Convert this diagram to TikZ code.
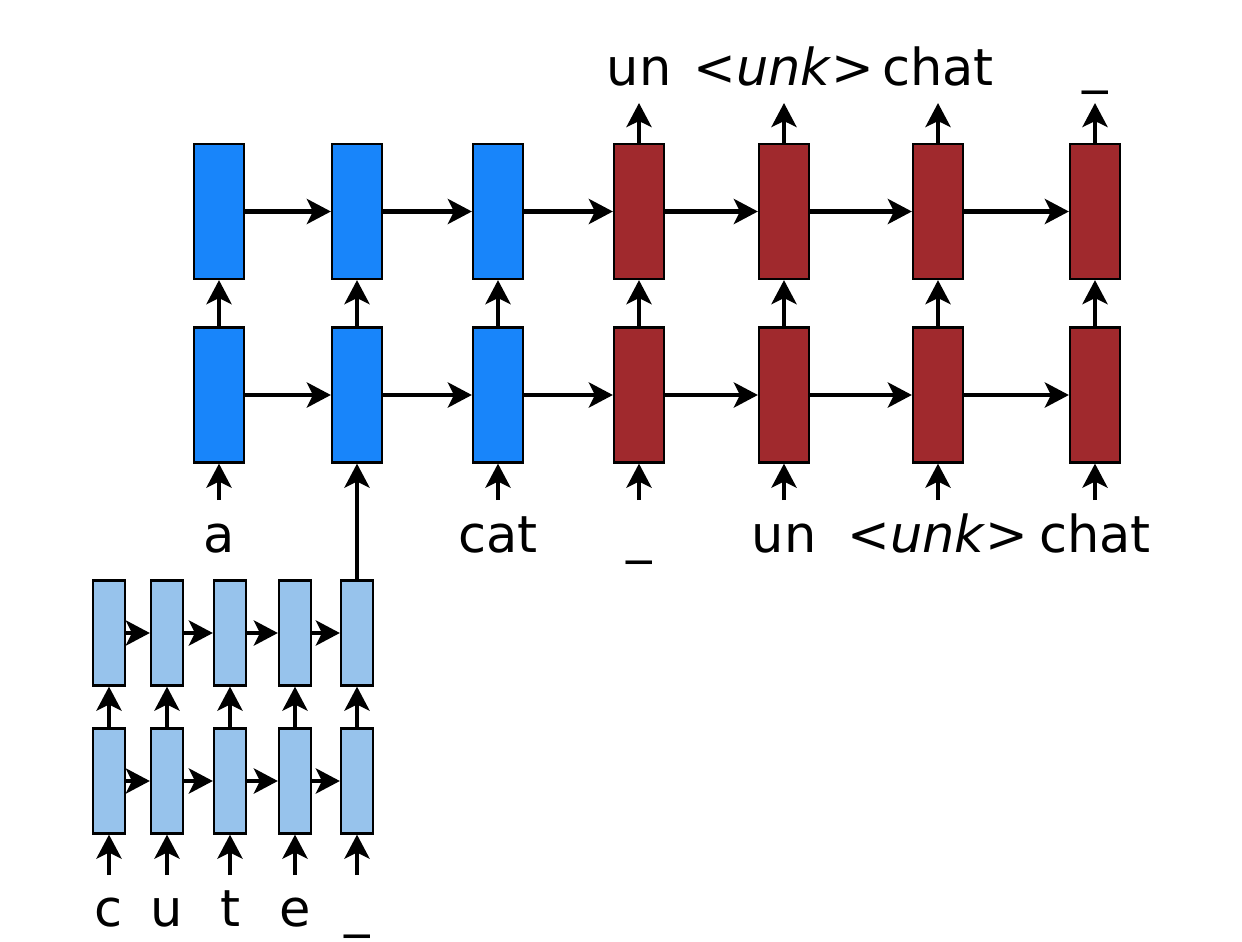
\documentclass[tikz,border=0pt]{standalone}
\usepackage{fontspec}
\setmainfont{DejaVu Sans}
\usetikzlibrary{arrows.meta}
\definecolor{encblue}{RGB}{24,133,250}
\definecolor{decred}{RGB}{160,41,45}
\definecolor{charblue}{RGB}{151,195,236}
\begin{document}
\begin{tikzpicture}[x=1pt,y=-1pt,
 bigbox/.style={draw=black,line width=2.2pt,minimum width=50pt,minimum height=135pt,inner sep=0pt},
 smallbox/.style={draw=black,line width=2.2pt,minimum width=32pt,minimum height=105pt,inner sep=0pt,fill=charblue},
 arr/.style={line width=4.8pt,-{Stealth[length=24pt,width=25pt,inset=6pt]}},
 lbl/.style={anchor=base,font=\fontsize{51}{60}\selectfont,inner sep=0pt}]
\useasboundingbox (0,0) rectangle (1242,942);
% big boxes
\foreach \i/\x/\c in {1/219/encblue,2/357/encblue,3/498/encblue,4/639/decred,5/784/decred,6/938/decred,7/1095/decred}{
  \node[bigbox,fill=\c] (T\i) at (\x,211.5) {};
  \node[bigbox,fill=\c] (B\i) at (\x,395) {};
  \draw[arr] (B\i) -- (T\i);
}
\foreach \i/\j in {1/2,2/3,3/4,4/5,5/6,6/7}{
  \draw[arr] (T\i.east) -- (T\j.west);
  \draw[arr] (B\i.east) -- (B\j.west);
}
% inputs
\foreach \i/\x in {1/219,3/498,4/639,5/784,6/938,7/1095}{
  \coordinate (I\i) at (\x,500);
  \draw[arr] (I\i) -- (B\i.south);
}
\node[lbl] (la) at (219,552) {a};
\node[lbl] (lcat) at (498,552) {cat};
\node[lbl] (lus) at (639,552) {\_};
\node[lbl] (lun) at (784,552) {un};
\node[lbl] (lunk) at (938,552) {<\textit{unk}>};
\node[lbl] (lchat) at (1095,552) {chat};
% outputs
\foreach \i/\x in {4/639,5/784,6/938,7/1095}{
  \coordinate (O\i) at (\x,103);
  \draw[arr] (T\i.north) -- (O\i);
}
\node[lbl] (oun) at (639,85) {un};
\node[lbl] (ounk) at (784,85) {<\textit{unk}>};
\node[lbl] (ochat) at (938,85) {chat};
\node[lbl] (ous) at (1095,82) {\_};
% character encoder
\foreach \i/\x/\s in {1/109/c,2/167/u,3/230/t,4/295/e,5/357/\_}{
  \node[smallbox] (ST\i) at (\x,633) {};
  \node[smallbox] (SB\i) at (\x,781) {};
  \draw[arr] (SB\i) -- (ST\i);
  \coordinate (SI\i) at (\x,875);
  \draw[arr] (SI\i) -- (SB\i.south);
  \node[lbl] (SL\i) at (\x,926) {\s};
}
\foreach \i/\j in {1/2,2/3,3/4,4/5}{
  \draw[arr] (ST\i.east) -- (ST\j.west);
  \draw[arr] (SB\i.east) -- (SB\j.west);
}
\draw[arr] (ST5.north) -- (B2.south);
\end{tikzpicture}
\end{document}
